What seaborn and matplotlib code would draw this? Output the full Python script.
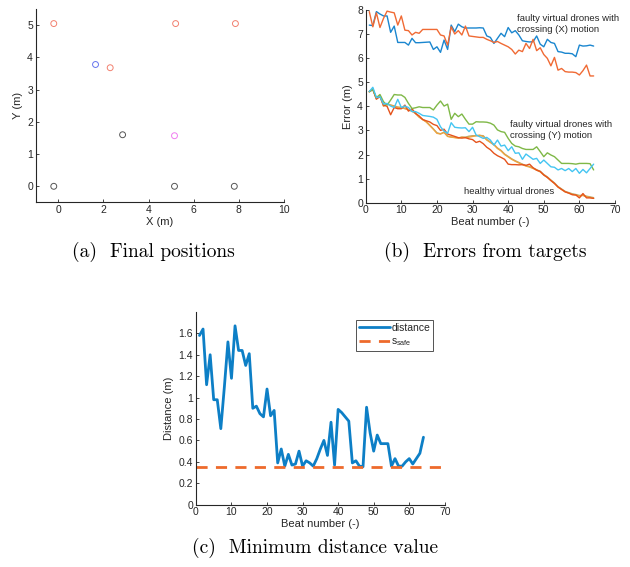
import numpy as np
import pandas as pd
import matplotlib
matplotlib.use("Agg")
import matplotlib.pyplot as plt
import seaborn as sns
from matplotlib.ticker import FuncFormatter

# ---------------- data ----------------
# (a) final positions
pos_x = [-0.2, 5.2, 7.85, 2.3, 1.65, 2.85, -0.2, 5.15, 7.8, 5.15]
pos_y = [5.05, 5.05, 5.05, 3.68, 3.78, 1.6, 0.0, 0.0, 0.0, 1.57]
pos_group = ["red", "red", "red", "red", "blue", "black", "black", "black", "black", "magenta"]

# (b) errors from targets
beats = list(range(1, 65))
faulty_x_blue = [7.37, 7.35, 7.93, 7.83, 7.75, 7.75, 7.07, 7.33, 6.65, 6.65,
                 6.65, 6.54, 6.82, 6.64, 6.64, 6.65, 6.66, 6.67, 6.36, 6.47,
                 6.24, 6.75, 6.36, 7.37, 7.10, 7.41, 7.30, 7.25, 7.25, 7.25,
                 7.25, 7.26, 7.25, 6.92, 6.86, 6.61, 6.82, 7.03, 6.89, 7.27,
                 7.05, 7.14, 6.96, 6.72, 6.69, 6.67, 6.68, 6.92, 6.58, 6.47,
                 6.78, 6.65, 6.61, 6.27, 6.25, 6.20, 6.20, 6.18, 6.06, 6.54,
                 6.50, 6.51, 6.54, 6.50]
faulty_x_orange = [7.93, 7.30, 7.88, 7.27, 7.65, 7.95, 7.91, 7.88, 7.37, 7.75,
                   7.16, 7.14, 6.96, 7.07, 7.03, 7.19, 7.19, 7.19, 7.19, 7.19,
                   6.96, 6.92, 6.54, 7.30, 7.00, 7.14, 6.96, 7.33, 6.92, 6.90,
                   6.88, 6.86, 6.86, 6.78, 6.72, 6.65, 6.69, 6.61, 6.54, 6.47,
                   6.36, 6.17, 6.33, 6.27, 6.61, 6.40, 6.78, 6.31, 6.43, 6.15,
                   5.99, 5.68, 6.03, 5.50, 5.57, 5.44, 5.42, 5.42, 5.40, 5.30,
                   5.48, 5.71, 5.26, 5.26]
faulty_y_green = [4.61, 4.70, 4.36, 4.49, 4.19, 4.05, 4.26, 4.49, 4.47, 4.47,
                  4.37, 4.12, 3.91, 3.94, 3.98, 3.95, 3.95, 3.95, 3.85, 4.05,
                  4.22, 4.01, 4.09, 3.46, 3.71, 3.57, 3.68, 3.46, 3.26, 3.26,
                  3.36, 3.35, 3.35, 3.34, 3.30, 3.22, 3.02, 2.95, 2.92, 2.67,
                  2.46, 2.35, 2.32, 2.25, 2.21, 2.21, 2.21, 2.32, 2.12, 1.91,
                  2.07, 1.98, 1.91, 1.77, 1.63, 1.63, 1.63, 1.62, 1.60, 1.63,
                  1.63, 1.63, 1.62, 1.36]
faulty_y_cyan = [4.61, 4.79, 4.36, 4.40, 4.09, 4.12, 4.01, 3.95, 4.29, 3.95,
                 4.01, 3.95, 3.78, 3.78, 3.71, 3.62, 3.60, 3.58, 3.55, 3.46,
                 3.15, 2.97, 2.88, 3.32, 3.13, 3.11, 3.10, 3.11, 2.95, 3.13,
                 2.81, 2.74, 2.67, 2.71, 2.60, 2.39, 2.60, 2.35, 2.39, 2.16,
                 2.32, 2.05, 2.07, 1.80, 2.02, 1.91, 1.80, 1.84, 1.63, 1.77,
                 1.63, 1.49, 1.47, 1.36, 1.42, 1.33, 1.42, 1.29, 1.42, 1.22,
                 1.38, 1.24, 1.42, 1.60]
healthy_olive = [4.60, 4.70, 4.32, 4.45, 4.02, 4.10, 4.05, 4.02, 3.97, 3.95,
                 3.92, 3.86, 3.80, 3.72, 3.56, 3.46, 3.36, 3.22, 3.06, 2.90,
                 2.86, 2.92, 2.76, 2.73, 2.71, 2.69, 2.72, 2.72, 2.76, 2.78,
                 2.78, 2.79, 2.78, 2.62, 2.52, 2.42, 2.27, 2.17, 2.02, 1.92,
                 1.82, 1.74, 1.67, 1.60, 1.54, 1.50, 1.44, 1.37, 1.30, 1.17,
                 1.07, 0.94, 0.82, 0.67, 0.57, 0.47, 0.42, 0.37, 0.34, 0.30,
                 0.31, 0.27, 0.24, 0.21]
healthy_orange = [4.60, 4.72, 4.30, 4.45, 4.00, 4.10, 4.05, 4.00, 3.95, 3.95,
                  3.90, 3.85, 3.80, 3.70, 3.55, 3.45, 3.35, 3.20, 3.05, 2.88,
                  2.85, 2.92, 2.75, 2.72, 2.70, 2.68, 2.72, 2.70, 2.72, 2.75,
                  2.78, 2.80, 2.75, 2.60, 2.50, 2.40, 2.25, 2.15, 2.00, 1.90,
                  1.80, 1.72, 1.65, 1.58, 1.52, 1.48, 1.42, 1.35, 1.28, 1.15,
                  1.05, 0.92, 0.80, 0.65, 0.55, 0.45, 0.40, 0.35, 0.32, 0.28,
                  0.30, 0.25, 0.22, 0.18]
healthy_red = [4.61, 4.70, 4.30, 4.40, 4.05, 4.00, 3.65, 3.95, 3.90, 3.90,
               4.05, 3.80, 3.90, 3.70, 3.60, 3.45, 3.40, 3.35, 3.25, 3.20,
               3.00, 3.05, 2.85, 2.80, 2.75, 2.70, 2.68, 2.70, 2.65, 2.62,
               2.50, 2.55, 2.45, 2.30, 2.20, 2.05, 1.95, 1.88, 1.80, 1.60,
               1.58, 1.58, 1.57, 1.58, 1.55, 1.60, 1.45, 1.35, 1.30, 1.15,
               1.05, 0.92, 0.80, 0.65, 0.55, 0.45, 0.40, 0.33, 0.32, 0.20,
               0.38, 0.20, 0.20, 0.18]

# (c) minimum distance
distance = [1.58, 1.64, 1.12, 1.40, 0.98, 0.98, 0.71, 1.10, 1.52, 1.18,
            1.67, 1.44, 1.44, 1.30, 1.41, 0.90, 0.92, 0.85, 0.82, 1.08,
            0.83, 0.88, 0.39, 0.52, 0.36, 0.47, 0.37, 0.38, 0.50, 0.36,
            0.41, 0.39, 0.36, 0.43, 0.52, 0.60, 0.46, 0.77, 0.37, 0.89,
            0.86, 0.82, 0.78, 0.39, 0.41, 0.36, 0.355, 0.91, 0.67, 0.50,
            0.65, 0.57, 0.57, 0.57, 0.36, 0.43, 0.36, 0.36, 0.40, 0.43,
            0.38, 0.43, 0.48, 0.63]
s_safe = 0.35
x_range_c = [0, 70]

# ---------------- style ----------------
sns.set_style("ticks")
plt.rcParams["font.family"] = ["Liberation Sans", "DejaVu Sans"]
plt.rcParams["xtick.direction"] = "in"
plt.rcParams["ytick.direction"] = "in"
plt.rcParams["xtick.major.size"] = 2.5
plt.rcParams["ytick.major.size"] = 2.5
TXT = "#262626"
plt.rcParams["axes.edgecolor"] = TXT
plt.rcParams["xtick.color"] = TXT
plt.rcParams["ytick.color"] = TXT
plt.rcParams["axes.labelcolor"] = TXT

fig = plt.figure(figsize=(6.3, 5.67), dpi=100)
axa = fig.add_axes([0.0567, 0.643, 0.394, 0.341])
axb = fig.add_axes([0.5805, 0.6425, 0.3957, 0.340])
axc = fig.add_axes([0.311, 0.1099, 0.395, 0.340])

gfmt = FuncFormatter(lambda v, p: f"{v:g}")

def style_axes(ax):
    sns.despine(ax=ax)
    for sp in ("left", "bottom"):
        ax.spines[sp].set_linewidth(0.8)
    ax.tick_params(labelsize=7.5, width=0.6, pad=2)
    ax.xaxis.set_major_formatter(gfmt)
    ax.yaxis.set_major_formatter(gfmt)

# ---------------- (a) ----------------
df_a = pd.DataFrame({"x": pos_x, "y": pos_y, "g": pos_group})
pal_a = {"red": "#f2806f", "blue": "#6674ee", "black": "#555555", "magenta": "#f07cf0"}
sns.scatterplot(data=df_a, x="x", y="y", hue="g", palette=pal_a, marker="o",
                s=18, linewidth=0.7, legend=False, ax=axa)
coll = axa.collections[0]
fc = coll.get_facecolors()
coll.set_edgecolors(fc)
coll.set_facecolors("none")
axa.set_xlim(-1, 10)
axa.set_ylim(-0.5, 5.5)
axa.set_xticks([0, 2, 4, 6, 8, 10])
axa.set_yticks([0, 1, 2, 3, 4, 5])
axa.set_xlabel("X (m)", fontsize=8, labelpad=1)
axa.set_ylabel("Y (m)", fontsize=8, labelpad=3)
style_axes(axa)

# ---------------- (b) ----------------
series_b = {
    "faulty_x_blue": (faulty_x_blue, "#1a86cf"),
    "faulty_x_orange": (faulty_x_orange, "#f06a34"),
    "healthy_olive": (healthy_olive, "#b5a872"),
    "healthy_orange": (healthy_orange, "#eea33f"),
    "healthy_red": (healthy_red, "#e5531c"),
    "faulty_y_green": (faulty_y_green, "#7fb847"),
    "faulty_y_cyan": (faulty_y_cyan, "#44c5f2"),
}
for name, (vals, col) in series_b.items():
    d = pd.DataFrame({"beat": beats, "err": vals})
    sns.lineplot(data=d, x="beat", y="err", color=col, linewidth=1.0, ax=axb)
axb.set_xlim(0, 70)
axb.set_ylim(0, 8)
axb.set_xticks(range(0, 71, 10))
axb.set_yticks(range(0, 9))
axb.set_xlabel("Beat number (-)", fontsize=8, labelpad=1)
axb.set_ylabel("Error (m)", fontsize=8, labelpad=3)
style_axes(axb)
axb.text(42.5, 7.42, "faulty virtual drones with\ncrossing (X) motion", fontsize=6.8,
         color=TXT, va="center", ha="left", linespacing=1.3)
axb.text(40.6, 3.02, "faulty virtual drones with\ncrossing (Y) motion", fontsize=6.8,
         color=TXT, va="center", ha="left", linespacing=1.3)
axb.text(27.6, 0.46, "healthy virtual drones", fontsize=6.8, color=TXT, va="center", ha="left")

# ---------------- (c) ----------------
df_c = pd.DataFrame({"beat": beats, "dist": distance})
sns.lineplot(data=df_c, x="beat", y="dist", color="#0d7fc6", linewidth=2.0,
             label="distance", ax=axc)
df_s = pd.DataFrame({"beat": x_range_c, "s": [s_safe, s_safe]})
sns.lineplot(data=df_s, x="beat", y="s", color="#ee6a2c", linewidth=2.0,
             dashes=False, label=r"$\mathregular{s_{safe}}$", ax=axc)
axc.lines[-1].set_linestyle((0, (4, 3)))
axc.set_xlim(0, 70)
axc.set_ylim(0, 1.8)
axc.set_xticks(range(0, 71, 10))
axc.set_yticks([0, 0.2, 0.4, 0.6, 0.8, 1.0, 1.2, 1.4, 1.6])
axc.set_xlabel("Beat number (-)", fontsize=8, labelpad=1)
axc.set_ylabel("Distance (m)", fontsize=8, labelpad=3)
style_axes(axc)
leg = axc.legend(loc="upper right", fontsize=7.5, frameon=True, fancybox=False,
                 handlelength=3.0, handletextpad=0.1, borderpad=0.3,
                 labelspacing=0.3, bbox_to_anchor=(0.975, 0.985))
leg.get_frame().set_edgecolor(TXT)
leg.get_frame().set_linewidth(0.7)
for t in leg.get_texts():
    t.set_color(TXT)

# ---------------- captions ----------------
cap = dict(fontsize=14, fontfamily="cmr10", ha="center", va="center", color="black")
fig.text(153.5 / 630, 1 - 252 / 567, "(a)  Final positions", **cap)
fig.text(485 / 630, 1 - 252 / 567, "(b)  Errors from targets", **cap)
fig.text(315 / 630, 1 - 548 / 567, "(c)  Minimum distance value", **cap)

fig.savefig("out.png", dpi=100)
